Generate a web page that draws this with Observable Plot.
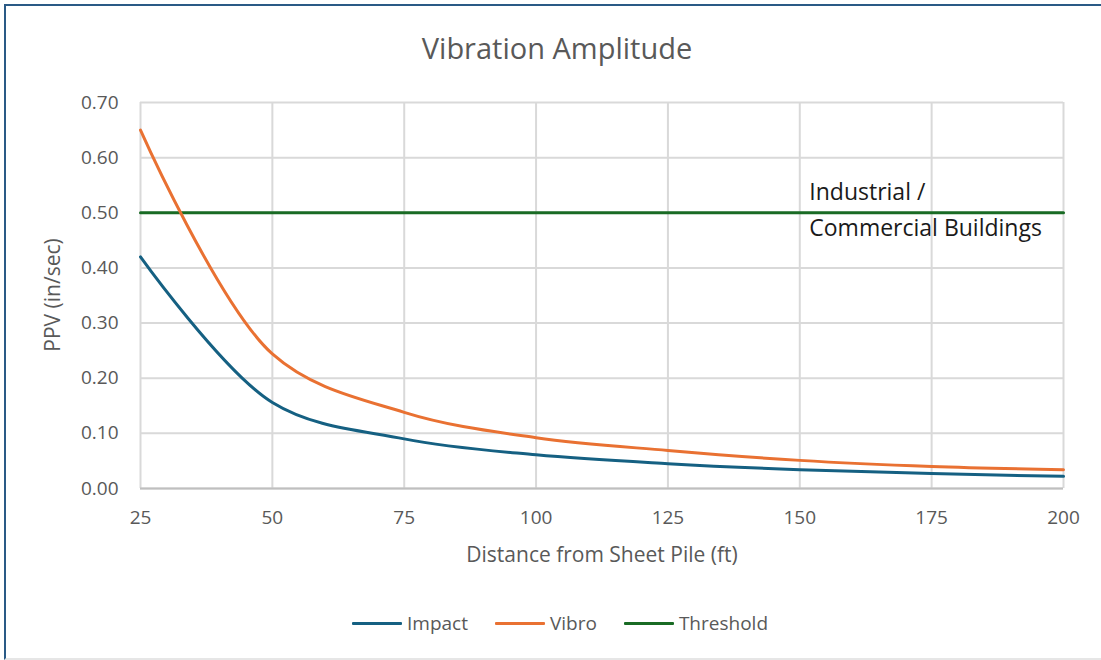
<!DOCTYPE html>
<html>
<head>
<meta charset="utf-8">
<script src="https://cdn.jsdelivr.net/npm/d3@7"></script>
<script src="https://cdn.jsdelivr.net/npm/@observablehq/plot@0.6"></script>
<style>
  html, body { margin: 0; padding: 0; background: #fff; }
  #wrap { position: relative; width: 1101px; height: 660px; overflow: hidden; font-family: "Open Sans", sans-serif; }
  #frame { position: absolute; left: 4px; top: 4px; width: 1120px; height: 652px; border-top: 2px solid #2a5a86; border-left: 2px solid #2a5a86; border-bottom: 2px solid #e6e6e6; }
  #title { position: absolute; left: 0; top: 28px; width: 1114px; text-align: center; font-size: 29px; color: #595959; line-height: 40px; }
  #ylabel { position: absolute; left: 52px; top: 295px; transform: translate(-50%, -50%) rotate(-90deg); white-space: nowrap; font-size: 21px; color: #595959; line-height: 26px; }
  #chart { position: absolute; left: 0; top: 0; }
  #legend { position: absolute; left: 352px; top: 611px; display: flex; align-items: center; font-size: 19px; color: #595959; line-height: 24px; }
  .item { display: flex; align-items: center; margin-right: 27px; }
  .sw { width: 50px; height: 3px; margin-right: 5px; border-radius: 1px; }
</style>
</head>
<body>
<div id="wrap">
  <div id="frame"></div>
  <div id="title"></div>
  <div id="chart"></div>
  <div id="ylabel"></div>
  <div id="legend"></div>
</div>
<script>
// ---- data ----
const distances = [25, 50, 75, 100, 125, 150, 175, 200];
const impact = [0.42, 0.156, 0.090, 0.061, 0.045, 0.034, 0.027, 0.022];
const vibro = [0.65, 0.244, 0.138, 0.092, 0.069, 0.051, 0.040, 0.034];
const thresholdValue = 0.5;
const thresholdRange = [25, 200];
const xTicks = [25, 50, 75, 100, 125, 150, 175, 200];
const yTicks = [0, 0.1, 0.2, 0.3, 0.4, 0.5, 0.6, 0.7];
const seriesNames = ["Impact", "Vibro", "Threshold"];
const seriesColors = ["#156082", "#e97132", "#196b24"];
const annotationText = ["Industrial /\nCommercial Buildings"];
const annotationX = [151.8];
const titleText = "Vibration Amplitude";
const xLabel = "Distance from Sheet Pile (ft)";
const yLabel = "PPV (in/sec)";

// ---- build table ----
const rows = [];
distances.forEach((d, i) => rows.push({series: "Impact", x: d, y: impact[i]}));
distances.forEach((d, i) => rows.push({series: "Vibro", x: d, y: vibro[i]}));
const thr = thresholdRange.map(x => ({series: "Threshold", x, y: thresholdValue}));
const ann = annotationText.map((t, i) => ({text: t, x: annotationX[i], y: thresholdValue}));
const color = Object.fromEntries(seriesNames.map((s, i) => [s, seriesColors[i]]));

document.getElementById("title").textContent = titleText;
document.getElementById("ylabel").textContent = yLabel;

const chart = Plot.plot({
  width: 1101,
  height: 600,
  marginLeft: 140,
  marginRight: 38,
  marginTop: 102,
  marginBottom: 112,
  style: {fontFamily: "Open Sans, sans-serif", background: "transparent", overflow: "visible"},
  x: {domain: [25, 200]},
  y: {domain: [0, 0.7]},
  marks: [
    Plot.gridX(xTicks, {stroke: "#d9d9d9", strokeOpacity: 1, strokeWidth: 2}),
    Plot.gridY(yTicks, {stroke: "#d9d9d9", strokeOpacity: 1, strokeWidth: 2}),
    Plot.axisX(xTicks, {tickSize: 0, tickPadding: 22, fontSize: 19, fill: "#595959", label: null}),
    Plot.axisY(yTicks, {tickSize: 0, tickPadding: 22, fontSize: 19, fill: "#595959", label: null, tickFormat: d3.format(".2f")}),
    Plot.ruleY([0], {stroke: "#bfbfbf", strokeWidth: 2}),
    Plot.line(thr, {x: "x", y: "y", stroke: color.Threshold, strokeWidth: 3}),
    Plot.line(rows, {x: "x", y: "y", z: "series", stroke: d => color[d.series], strokeWidth: 3, curve: "catmull-rom"}),
    Plot.text(ann, {x: "x", y: "y", text: "text", textAnchor: "start", lineAnchor: "middle", lineHeight: 1.57, fontSize: 23, fill: "#1a1a1a", dy: -6}),
    Plot.text([xLabel], {frameAnchor: "bottom", dy: 67, lineAnchor: "middle", fontSize: 21, fill: "#595959"})
  ]
});
document.getElementById("chart").appendChild(chart);

const legend = document.getElementById("legend");
seriesNames.forEach((s, i) => {
  const item = document.createElement("div");
  item.className = "item";
  const sw = document.createElement("div");
  sw.className = "sw";
  sw.style.background = seriesColors[i];
  const t = document.createElement("span");
  t.textContent = s;
  item.appendChild(sw);
  item.appendChild(t);
  legend.appendChild(item);
});
</script>
</body>
</html>
